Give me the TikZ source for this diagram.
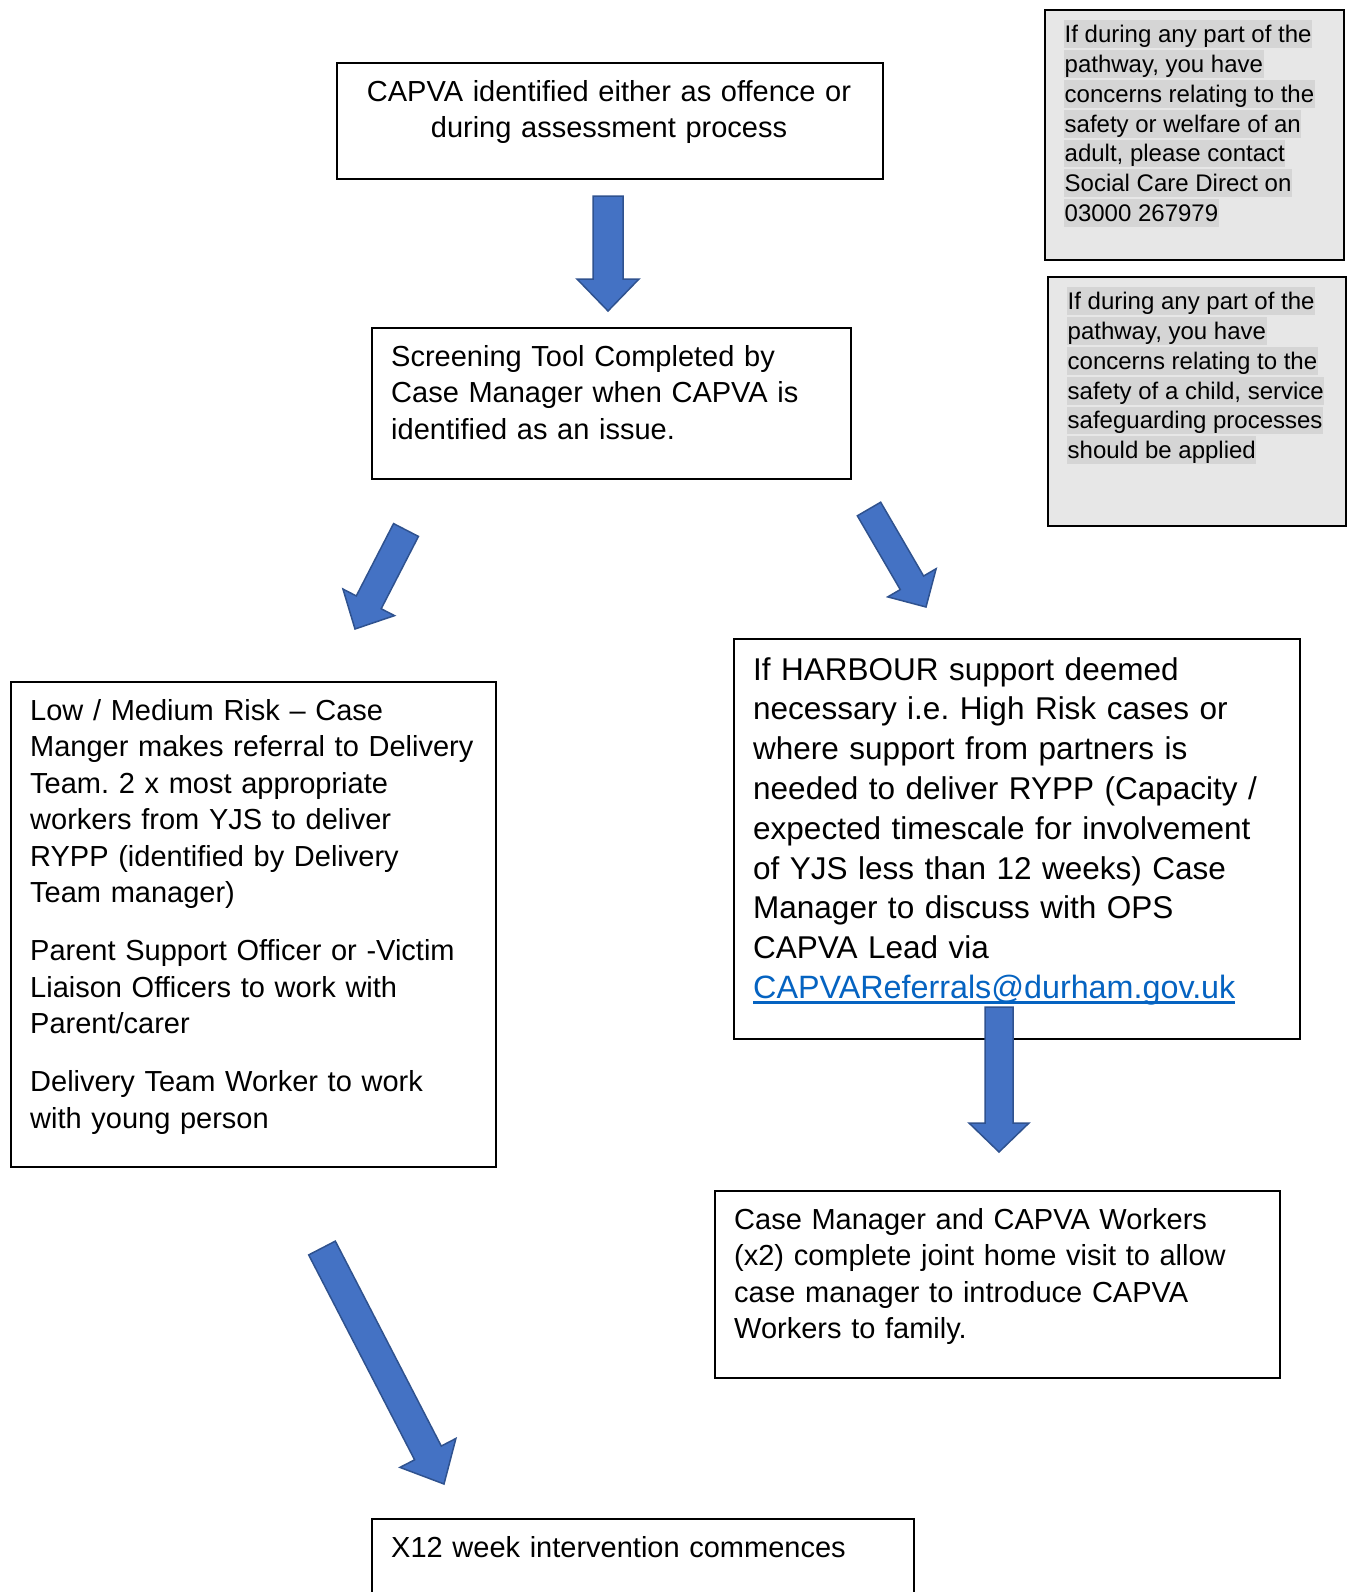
\documentclass[tikz,border=0pt]{standalone}
\usepackage{fontspec}
\setmainfont{Liberation Sans}[Ligatures=NoCommon]
\usetikzlibrary{calc}
\definecolor{arrowfill}{HTML}{4472C4}
\definecolor{arrowdraw}{HTML}{2F528F}
\definecolor{boxgray}{RGB}{231,231,231}
\definecolor{hlgray}{RGB}{213,213,213}
\definecolor{linkblue}{HTML}{0563C1}
\newcommand\barrow[5]{%
  \coordinate (#2base) at ($(#2)!#5!(#1)$);
  \draw[blockarr] ($(#1)!#3!90:(#2)$) -- ($(#2base)!#3!90:(#2)$) -- ($(#2base)!#4!90:(#2)$) -- (#2)
    -- ($(#2base)!#4!-90:(#2)$) -- ($(#2base)!#3!-90:(#2)$) -- ($(#1)!#3!-90:(#2)$) -- cycle;}
\newcommand\emailtext{\fontsize{32.3pt}{39.8pt}\selectfont CAPVAReferrals@durham.gov.uk}
\newlength\emailwd
\begin{document}
\settowidth{\emailwd}{\emailtext}%
\begin{tikzpicture}[x=1pt,y=-1pt,
  box/.style={draw=black, line width=1.6pt, rectangle, inner sep=0pt, anchor=north west},
  graybox/.style={box, fill=boxgray},
  txt/.style={inner sep=0pt, anchor=north west, align=left, text width=#1},
  mainfont/.style={font=\fontsize{29pt}{36.5pt}\selectfont\frenchspacing},
  bigfont/.style={font=\fontsize{31.5pt}{39.8pt}\selectfont\frenchspacing},
  hl/.style={fill=hlgray, inner xsep=0.5pt, inner ysep=0pt, text height=22.3pt, text depth=5.6pt, anchor=base west, font=\fontsize{24pt}{29.8pt}\selectfont\frenchspacing},
  blockarr/.style={fill=arrowfill, draw=arrowdraw, line width=1.5pt, line join=miter},
  linkline/.style={draw=linkblue, line width=2.6pt}]
\useasboundingbox (0,0) rectangle (1349,1592);
\clip (0,0) rectangle (1349,1592);

% boxes
\node[box, minimum width=546pt, minimum height=116pt] (b1) at (336,62) {};
\node[box, minimum width=479pt, minimum height=151pt] (b2) at (371,327) {};
\node[graybox, minimum width=299pt, minimum height=250pt] (g1) at (1044,9) {};
\node[graybox, minimum width=298pt, minimum height=249pt] (g2) at (1047,276) {};
\node[box, minimum width=485pt, minimum height=485pt] (b3) at (10,681) {};
\node[box, minimum width=566pt, minimum height=400pt] (b4) at (733,638) {};
\node[box, minimum width=565pt, minimum height=187pt] (b5) at (714,1190) {};
\node[box, minimum width=542pt, minimum height=110pt] (b6) at (371,1518) {};

% texts
\node[txt=540pt, mainfont, align=center, anchor=north] (t1) at (609,75.45)
  {\strut CAPVA identified either as offence or\\during assessment process};
\node[txt=450pt, mainfont] (t2) at (391,340.45)
  {\strut Screening Tool Completed by\\Case Manager when CAPVA is\\identified as an issue.};
\node[txt=460pt, mainfont] (t3) at (30,694.45)
  {\strut Low / Medium Risk – Case\\Manger makes referral to Delivery\\Team. 2 x most appropriate\\workers from YJS to deliver\\RYPP (identified by Delivery\\Team manager)\\[21.5pt]
   Parent Support Officer or -Victim\\Liaison Officers to work with\\Parent/carer\\[21.5pt]
   Delivery Team Worker to work\\with young person};
\node[txt=540pt, bigfont] (t4) at (753,652.1)
  {\strut If HARBOUR support deemed\\necessary i.e. High Risk cases or\\where support from partners is\\needed to deliver RYPP (Capacity /\\expected timescale for involvement\\of YJS less than 12 weeks) Case\\Manager to discuss with OPS\\CAPVA Lead via\\\textcolor{linkblue}{\emailtext}};
\coordinate (ulstart) at (753,1002.4);
\draw[linkline] (ulstart) -- ++(\emailwd,0pt);
\node[txt=540pt, mainfont] (t5) at (734,1203.45)
  {\strut Case Manager and CAPVA Workers\\(x2) complete joint home visit to allow\\case manager to introduce CAPVA\\Workers to family.};
\node[txt=520pt, mainfont] (t6) at (391,1531.45)
  {\strut X12 week intervention commences};

% gray box highlighted lines
\foreach \t [count=\i] in {{If during any part of the},{pathway, you have},{concerns relating to the},{safety or welfare of an},{adult, please contact},{Social Care Direct on},{03000 267979}}
  \node[hl] (ga\i) at (1064,{42.6+29.8*(\i-1)}) {\t};
\foreach \t [count=\i] in {{If during any part of the},{pathway, you have},{concerns relating to the},{safety of a child, service},{safeguarding processes},{should be applied}}
  \node[hl] (gb\i) at (1067,{309.6+29.8*(\i-1)}) {\t};

% arrows
\coordinate (a1s) at (608,196);  \coordinate (a1e) at (608,311);
\coordinate (a2s) at (406,530);  \coordinate (a2e) at (355,629);
\coordinate (a3s) at (869,509);  \coordinate (a3e) at (926,607);
\coordinate (a4s) at (999,1007); \coordinate (a4e) at (999,1152);
\coordinate (a5s) at (322,1248); \coordinate (a5e) at (444,1484);
\barrow{a1s}{a1e}{15pt}{31pt}{32pt}
\barrow{a2s}{a2e}{14pt}{29pt}{30pt}
\barrow{a3s}{a3e}{13.5pt}{28pt}{28pt}
\barrow{a4s}{a4e}{14pt}{30pt}{29pt}
\barrow{a5s}{a5e}{15pt}{31.5pt}{35pt}
\end{tikzpicture}
\end{document}
